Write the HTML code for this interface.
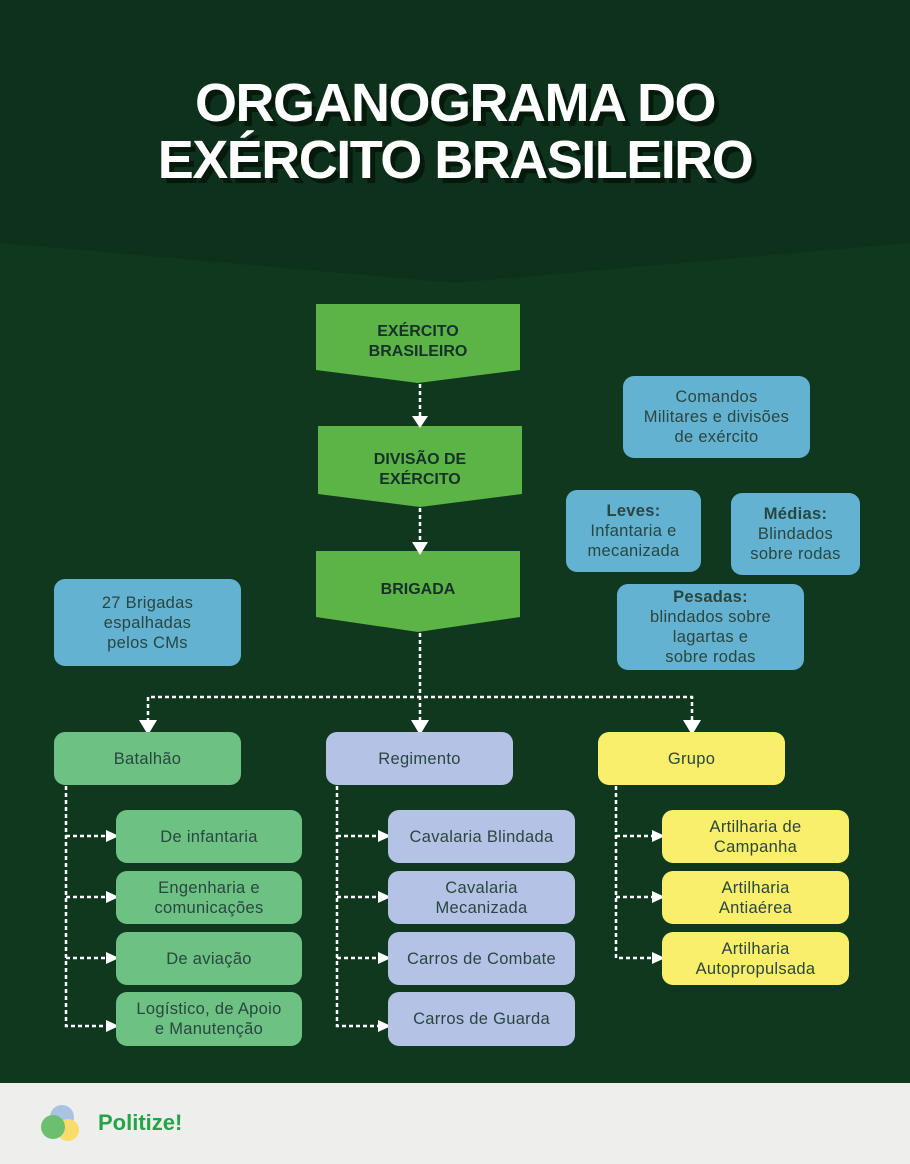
<!DOCTYPE html>
<html><head><meta charset="utf-8"><style>
body{margin:0;width:910px;height:1164px;position:relative;background:#10381f;font-family:"Liberation Sans",sans-serif;overflow:hidden}
.b{position:absolute;display:flex;align-items:center;justify-content:center;text-align:center;color:#2a4640;font-size:16.5px;line-height:20px;border-radius:11px;box-sizing:border-box;letter-spacing:0.3px}
.bl{background:#64b2d1}.gr{background:#6cc183}.lv{background:#b4c3e5}.ye{background:#f9ef6a}
.t{position:absolute;left:0;width:910px;text-align:center;color:#fff;font-weight:bold;font-size:54px;letter-spacing:-1.5px;text-shadow:5px 5px 0 #061a0c}
.cv{position:absolute;color:#16302a;font-weight:bold;font-size:16px;line-height:20px;text-align:center;display:flex;align-items:center;justify-content:center}
</style></head><body>
<svg width="910" height="1164" style="position:absolute;left:0;top:0">
<polygon points="0,0 910,0 910,243 455,283 0,243" fill="#0d311b"/>
<polygon points="316,304 520,304 520,370 418,383 316,370" fill="#5db446"/>
<polygon points="318,426 522,426 522,494 420,507 318,494" fill="#5db446"/>
<polygon points="316,551 520,551 520,617 418,632 316,617" fill="#5db446"/>
<g stroke="#fff" stroke-width="2.5" stroke-dasharray="4 3" fill="none">
<line x1="420" y1="384" x2="420" y2="416"/>
<line x1="420" y1="508" x2="420" y2="542"/>
<line x1="420" y1="633" x2="420" y2="720"/>
<polyline points="148,722 148,697 692,697 692,722"/>
<polyline points="66,786 66,1026 108,1026"/>
<line x1="66" y1="836" x2="108" y2="836"/><line x1="66" y1="897" x2="108" y2="897"/><line x1="66" y1="958" x2="108" y2="958"/>
<polyline points="337,786 337,1026 380,1026"/>
<line x1="337" y1="836" x2="380" y2="836"/><line x1="337" y1="897" x2="380" y2="897"/><line x1="337" y1="958" x2="380" y2="958"/>
<polyline points="616,786 616,958 654,958"/>
<line x1="616" y1="836" x2="654" y2="836"/><line x1="616" y1="897" x2="654" y2="897"/>
</g>
<g fill="#fff">
<polygon points="412,416 428,416 420,428"/>
<polygon points="412,542 428,542 420,555"/>
<polygon points="139,720 157,720 148,735"/>
<polygon points="411,720 429,720 420,735"/>
<polygon points="683,720 701,720 692,735"/>
<polygon points="106,830 106,842 119,836"/><polygon points="106,891 106,903 119,897"/><polygon points="106,952 106,964 119,958"/><polygon points="106,1020 106,1032 119,1026"/>
<polygon points="378,830 378,842 391,836"/><polygon points="378,891 378,903 391,897"/><polygon points="378,952 378,964 391,958"/><polygon points="378,1020 378,1032 391,1026"/>
<polygon points="652,830 652,842 665,836"/><polygon points="652,891 652,903 665,897"/><polygon points="652,952 652,964 665,958"/>
</g>
<rect x="0" y="1083" width="910" height="81" fill="#eeefed"/>
<circle cx="62" cy="1117" r="12" fill="#a9c3e3"/>
<circle cx="68" cy="1130" r="11" fill="#f9dc6a"/>
<circle cx="53" cy="1127" r="12" fill="#6cbf6e"/>
</svg>
<div class="t" style="top:73px;line-height:60px">ORGANOGRAMA DO</div>
<div class="t" style="top:130px;line-height:60px">EXÉRCITO BRASILEIRO</div>
<div class="cv" style="left:316px;top:322px;width:204px;height:40px">EXÉRCITO<br>BRASILEIRO</div>
<div class="cv" style="left:318px;top:450px;width:204px;height:40px">DIVISÃO DE<br>EXÉRCITO</div>
<div class="cv" style="left:316px;top:580px;width:204px;height:20px">BRIGADA</div>
<div class="b bl" style="left:623px;top:376px;width:187px;height:82px">Comandos<br>Militares e divisões<br>de exército</div>
<div class="b bl" style="left:566px;top:490px;width:135px;height:82px"><span><b>Leves:</b><br>Infantaria e<br>mecanizada</span></div>
<div class="b bl" style="left:731px;top:493px;width:129px;height:82px"><span><b>Médias:</b><br>Blindados<br>sobre rodas</span></div>
<div class="b bl" style="left:617px;top:584px;width:187px;height:86px"><span><b>Pesadas:</b><br>blindados sobre<br>lagartas e<br>sobre rodas</span></div>
<div class="b bl" style="left:54px;top:579px;width:187px;height:87px">27 Brigadas<br>espalhadas<br>pelos CMs</div>
<div class="b gr" style="left:54px;top:732px;width:187px;height:53px">Batalhão</div>
<div class="b lv" style="left:326px;top:732px;width:187px;height:53px">Regimento</div>
<div class="b ye" style="left:598px;top:732px;width:187px;height:53px">Grupo</div>
<div class="b gr" style="left:116px;top:810px;width:186px;height:53px">De infantaria</div>
<div class="b gr" style="left:116px;top:871px;width:186px;height:53px">Engenharia e<br>comunicações</div>
<div class="b gr" style="left:116px;top:932px;width:186px;height:53px">De aviação</div>
<div class="b gr" style="left:116px;top:992px;width:186px;height:54px">Logístico, de Apoio<br>e Manutenção</div>
<div class="b lv" style="left:388px;top:810px;width:187px;height:53px">Cavalaria Blindada</div>
<div class="b lv" style="left:388px;top:871px;width:187px;height:53px">Cavalaria<br>Mecanizada</div>
<div class="b lv" style="left:388px;top:932px;width:187px;height:53px">Carros de Combate</div>
<div class="b lv" style="left:388px;top:992px;width:187px;height:54px">Carros de Guarda</div>
<div class="b ye" style="left:662px;top:810px;width:187px;height:53px">Artilharia de<br>Campanha</div>
<div class="b ye" style="left:662px;top:871px;width:187px;height:53px">Artilharia<br>Antiaérea</div>
<div class="b ye" style="left:662px;top:932px;width:187px;height:53px">Artilharia<br>Autopropulsada</div>
<div style="position:absolute;left:98px;top:1110px;font-size:22px;font-weight:bold;color:#22a447">Politize!</div>
</body></html>
